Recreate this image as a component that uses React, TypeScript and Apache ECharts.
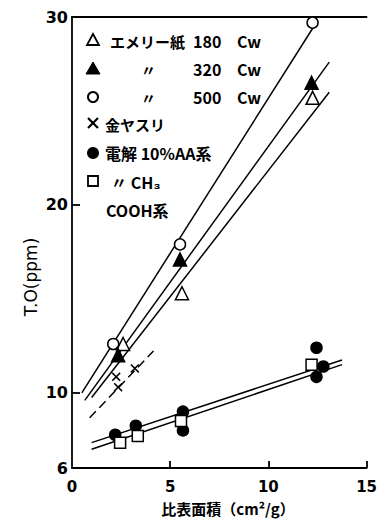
import React, { useEffect, useRef } from "react";
import * as echarts from "echarts";

// Measured points (x: 比表面積 cm²/g, y: T.O ppm)
const emery180 = [[2.6, 12.6], [5.6, 15.3], [12.25, 25.7]];
const emery320 = [[2.35, 12.0], [5.5, 17.1], [12.2, 26.5]];
const emery500 = [[2.1, 12.6], [5.5, 17.9], [12.25, 29.7]];
const fileMarks = [[2.25, 10.85], [2.35, 10.3], [3.2, 11.3]];
const elecAA = [[2.2, 7.77], [3.25, 8.25], [5.65, 9.0], [5.65, 8.0], [12.45, 12.4], [12.45, 10.85], [12.8, 11.4]];
const elecCH3 = [[2.45, 7.35], [3.35, 7.7], [5.55, 8.5], [12.2, 11.5]];

// Fitted lines (end points)
const fit500 = [[0.5, 10.0], [12.5, 29.8]];
const fit320 = [[0.65, 9.6], [13.1, 27.6]];
const fit180 = [[1.0, 9.75], [13.1, 26.0]];
const fitFile = [[0.9, 8.67], [4.15, 12.23]];
const fitAA = [[1.0, 7.35], [13.75, 11.75]];
const fitCH3 = [[1.0, 7.0], [13.75, 11.5]];

const yLabels = [6, 10, 20, 30];
const yTicks = [10, 20, 30];
const xLabels = [0, 5, 10, 15];
const xTicks = [5, 10, 15];

const CROSS = "path://M0,1.2L1.2,0L5,3.8L8.8,0L10,1.2L6.2,5L10,8.8L8.8,10L5,6.2L1.2,10L0,8.8L3.8,5Z";
const JP = "'Noto Sans CJK JP', sans-serif";

export default function App() {
  const ref = useRef<HTMLDivElement>(null);
  useEffect(() => {
    document.body.style.margin = "0";
    const chart = echarts.init(ref.current!, null, { renderer: "svg" });
    const lineSeries = (data: number[][], dashed = false) => ({
      type: "line",
      data,
      symbol: "none",
      silent: true,
      lineStyle: { color: "#000", width: 1.5, type: dashed ? [9, 5] : "solid" },
      z: 1,
    });
    const scatter = (data: number[][], symbol: string, size: number, fill: string, bw = 1.5) => ({
      type: "scatter",
      data,
      symbol,
      symbolSize: size,
      itemStyle: { color: fill, borderColor: "#000", borderWidth: bw, opacity: 1 },
      z: 3,
    });
    const t = (text: string, x: number, y: number, size = 15, extra: any = {}) => ({
      type: "text",
      x,
      y,
      style: {
        text,
        fill: "#000",
        font: `bold ${size}px ${JP}`,
        verticalAlign: "middle",
        ...extra,
      },
    });
    const lx = 93;
    chart.setOption({
      animation: false,
      grid: { left: 72, right: 7, top: 17, bottom: 57 },
      xAxis: [
        {
          type: "value",
          min: 0,
          max: 15,
          interval: 5,
          axisLine: { lineStyle: { color: "#000", width: 1.8 } },
          axisTick: { inside: true, length: 7, lineStyle: { color: "#000", width: 1.8 }, customValues: xTicks },
          axisLabel: {
            customValues: xLabels,
            color: "#000",
            fontSize: 15,
            fontWeight: "bold",
            fontFamily: "'DejaVu Sans', sans-serif",
            margin: 11,
          },
          splitLine: { show: false },
        },
        {
          type: "value",
          position: "top",
          min: 0,
          max: 15,
          axisLine: { show: true, lineStyle: { color: "#000", width: 1.8 } },
          axisTick: { show: false },
          axisLabel: { show: false },
          splitLine: { show: false },
        },
      ],
      yAxis: {
        type: "value",
        min: 6,
        max: 30,
        axisLine: { show: true, lineStyle: { color: "#000", width: 1.8 } },
        axisTick: { show: true, inside: true, length: 8, lineStyle: { color: "#000", width: 1.8 }, customValues: yTicks },
        axisLabel: {
          customValues: yLabels,
          color: "#000",
          fontSize: 16,
          fontWeight: "bold",
          fontFamily: "'DejaVu Sans', sans-serif",
          margin: 4,
        },
        splitLine: { show: false },
      },
      series: [
        lineSeries(fit500),
        lineSeries(fit320),
        lineSeries(fit180),
        lineSeries(fitFile, true),
        lineSeries(fitAA),
        lineSeries(fitCH3),
        scatter(emery180, "triangle", 13, "#fff"),
        scatter(emery320, "triangle", 13, "#000"),
        scatter(emery500, "circle", 11, "#fff"),
        scatter(fileMarks, CROSS, 9, "#000", 0),
        scatter(elecAA, "circle", 11, "#000"),
        scatter(elecCH3, "rect", 11, "#fff"),
      ],
      graphic: [
        // legend symbols
        { type: "polygon", shape: { points: [[lx, 34], [lx + 6, 45], [lx - 6, 45]] }, style: { fill: "#fff", stroke: "#000", lineWidth: 1.8 } },
        { type: "polygon", shape: { points: [[lx, 62], [lx + 7, 74], [lx - 7, 74]] }, style: { fill: "#000", stroke: "#000", lineWidth: 1 } },
        { type: "circle", shape: { cx: lx, cy: 97, r: 5 }, style: { fill: "#fff", stroke: "#000", lineWidth: 2 } },
        { type: "line", shape: { x1: lx - 5, y1: 118, x2: lx + 5, y2: 128 }, style: { stroke: "#000", lineWidth: 2.2 } },
        { type: "line", shape: { x1: lx + 5, y1: 118, x2: lx - 5, y2: 128 }, style: { stroke: "#000", lineWidth: 2.2 } },
        { type: "circle", shape: { cx: lx, cy: 153, r: 6 }, style: { fill: "#000" } },
        { type: "rect", shape: { x: lx - 5, y: 176, width: 10, height: 10 }, style: { fill: "#fff", stroke: "#000", lineWidth: 1.8 } },
        // legend texts
        t("エメリー紙", 110, 41),
        t("180", 193, 41, 16),
        t("Cw", 237, 41, 16),
        t("〃", 141, 69),
        t("320", 193, 69, 16),
        t("Cw", 237, 69, 16),
        t("〃", 141, 97),
        t("500", 193, 97, 16),
        t("Cw", 237, 97, 16),
        t("金ヤスリ", 105, 124),
        t("電解 10%AA系", 105, 153, 16),
        t("〃 CH₃", 111, 182, 16),
        t("COOH系", 106, 210, 16),
        // axis names
        {
          type: "text",
          x: 31,
          y: 277,
          rotation: Math.PI / 2,
          style: {
            text: "T.O(ppm)",
            fill: "#000",
            font: `17px 'DejaVu Sans', sans-serif`,
            align: "center",
            verticalAlign: "middle",
          },
        },
        {
          type: "text",
          x: 228,
          y: 508,
          style: {
            text: "比表面積（cm²/g）",
            fill: "#000",
            font: `bold 15px ${JP}`,
            align: "center",
            verticalAlign: "middle",
          },
        },
      ],
    });
    return () => chart.dispose();
  }, []);
  return <div ref={ref} style={{ width: 380, height: 525 }} />;
}
